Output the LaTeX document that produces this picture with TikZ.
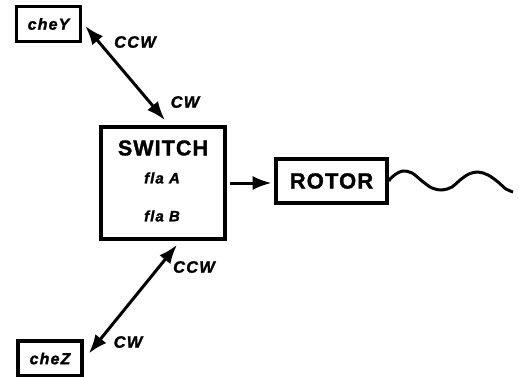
\documentclass[tikz,border=0pt]{standalone}
\usepackage{fontspec}
\setmainfont{Liberation Sans}
\newfontfamily\lblfont{Liberation Sans Bold Italic}[LetterSpace=7,FakeBold=1.5]
\newfontfamily\bigfont{Liberation Sans Bold}[LetterSpace=5,FakeBold=1.5]
\usetikzlibrary{arrows.meta,calc}
\begin{document}
\begin{tikzpicture}[x=1pt,y=-1pt,
  box/.style={draw,line width=3.6pt,inner sep=0pt,minimum width=#1},
  smallbox/.style={box=64pt,minimum height=35pt,font=\lblfont\fontsize{16}{16}\selectfont},
  lab/.style={font=\lblfont\fontsize{16.5}{16.5}\selectfont},
  flab/.style={font=\lblfont\fontsize{15}{15}\selectfont},
  arr/.style={line width=3pt,-{Latex[length=19pt,width=14pt]}},
  dbl/.style={line width=3pt,{Latex[length=19pt,width=14pt]}-{Latex[length=19pt,width=14pt]}}]
\useasboundingbox (0,0) rectangle (519,377);
\node[smallbox] (cheY) at (48.5,24) {cheY};
\node[smallbox] (cheZ) at (50,358.5) {cheZ};
\node[box=124pt,minimum height=112pt] (sw) at (163,183) {};
\node[font=\bigfont\fontsize{21.5}{21.5}\selectfont] (swt) at (163,148) {SWITCH};
\node[flab] (fa) at (162,178) {fla A};
\node[flab] (fb) at (162,216) {fla B};
\node[box=111pt,minimum height=44pt,font=\bigfont\fontsize{22}{22}\selectfont] (rotor) at (331.5,181) {ROTOR};
\draw[dbl] ($(cheY.east)+(3,2)$) -- ($(sw.north)+(2,-5)$);
\draw[dbl] ($(sw.south)+(14,4)$) -- ($(cheZ.east)+(5,-5)$);
\draw[arr] ([xshift=3pt]sw.east) -- ([xshift=-2.5pt]rotor.west |- sw.east);
\node[lab] (l1) at (135,42) {CCW};
\node[lab] (l2) at (185,102) {CW};
\node[lab] (l3) at (194,267) {CCW};
\node[lab] (l4) at (128,342) {CW};
\coordinate (w0) at (rotor.east);
\draw[line width=3pt] (w0) -- plot[smooth,tension=0.6] coordinates {(390,179) (396,174) (403,171) (412,173) (422,181) (432,188) (442,190) (452,187) (460,180) (469,174) (478,172) (488,175) (498,182) (506,189) (513,192)};
\end{tikzpicture}
\end{document}
